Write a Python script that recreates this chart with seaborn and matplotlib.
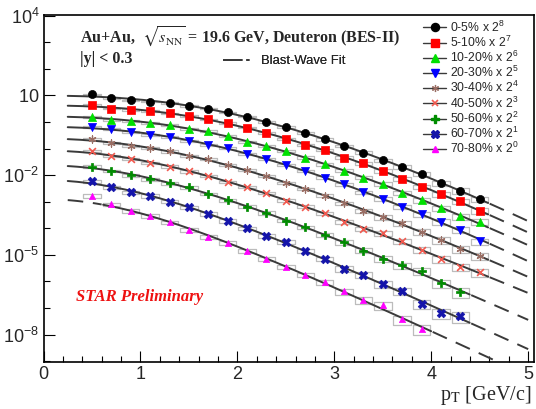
import numpy as np
import pandas as pd
import matplotlib
matplotlib.use("Agg")
import matplotlib.pyplot as plt
import matplotlib.ticker as mticker
from matplotlib.lines import Line2D
from matplotlib.patches import Rectangle
from matplotlib.collections import PatchCollection
import seaborn as sns

# ---------------- data ----------------
pt = [0.5, 0.7, 0.9, 1.1, 1.3, 1.5, 1.7, 1.9, 2.1, 2.3, 2.5,
      2.7, 2.9, 3.1, 3.3, 3.5, 3.7, 3.9, 4.1, 4.3, 4.5]

centralities = ["0-5%", "5-10%", "10-20%", "20-30%", "30-40%",
                "40-50%", "50-60%", "60-70%", "70-80%"]
scale_powers = [8, 7, 6, 5, 4, 3, 2, 1, 0]

c0_5 = [11, 8.1, 6.5, 5.9, 5.2, 4.0, 3.2, 2.3, 1.6, 1.0, 0.65,
        0.40, 0.22, 0.126, 0.071, 0.037, 0.020, 0.011, 4.9e-3, 2.6e-3, 1.26e-3]
c5_10 = [4.4, 3.2, 2.8, 2.6, 2.1, 1.66, 1.26, 0.93, 0.62, 0.40, 0.23,
         0.138, 0.087, 0.046, 0.028, 0.0145, 7.1e-3, 3.6e-3, 1.95e-3, 1.02e-3, 4.6e-4]
c10_20 = [1.58, 1.17, 1.10, 0.89, 0.75, 0.56, 0.46, 0.30, 0.178, 0.126, 0.081,
          0.046, 0.026, 0.0145, 8.1e-3, 4.6e-3, 2.2e-3, 1.15e-3, 5.6e-4, 2.8e-4, 1.78e-4]
c20_30 = [0.65, 0.53, 0.43, 0.32, 0.28, 0.195, 0.138, 0.102, 0.065, 0.042, 0.024,
          0.0145, 8.1e-3, 4.6e-3, 2.3e-3, 1.26e-3, 6.6e-4, 3.5e-4, 1.78e-4, 8.9e-5, 3.2e-5]
c30_40 = [0.224, 0.158, 0.126, 0.102, 0.078, 0.052, 0.040, 0.0245, 0.0158, 9.3e-3, 5.2e-3,
          3.0e-3, 1.66e-3, 8.9e-4, 4.6e-4, 2.6e-4, 1.55e-4, 7.4e-5, 3.6e-5, 1.7e-5, 9.3e-6]
c40_50 = [0.081, 0.052, 0.041, 0.028, 0.021, 0.0138, 9.3e-3, 5.6e-3, 3.7e-3, 2.1e-3, 1.1e-3,
          6.6e-4, 3.6e-4, 1.78e-4, 9.5e-5, 6.5e-5, 3.2e-5, 1.58e-5, 7.1e-6, 3.5e-6, 2.2e-6]
c50_60 = [0.021, 0.0145, 0.010, 7.1e-3, 4.9e-3, 3.5e-3, 1.95e-3, 1.15e-3, 6.6e-4, 3.8e-4,
          1.95e-4, 1.1e-4, 5.8e-5, 3.0e-5, 1.45e-5, 7.1e-6, 4.0e-6, 2.5e-6, 8.7e-7, 4.0e-7]
c60_70 = [5.8e-3, 3.5e-3, 2.3e-3, 1.66e-3, 1.0e-3, 6.2e-4, 3.5e-4, 1.9e-4, 1.0e-4, 5.2e-5,
          3.0e-5, 1.45e-5, 7.1e-6, 3.0e-6, 1.78e-6, 8.1e-7, 4.4e-7, 1.45e-7, 6.5e-8, 5.0e-8]
c70_80 = [1.66e-3, 7.9e-4, 4.4e-4, 3.0e-4, 1.66e-4, 8.9e-5, 4.9e-5, 2.75e-5, 1.45e-5,
          7.1e-6, 3.5e-6, 1.78e-6, 9.3e-7, 4.2e-7, 1.95e-7, 1.26e-7, 3.7e-8, 1.58e-8]

series = [c0_5, c5_10, c10_20, c20_30, c30_40, c40_50, c50_60, c60_70, c70_80]

# relative systematic uncertainty (box half-height): centrality factor x pT factor
sys_cent = [0.07, 0.07, 0.08, 0.08, 0.09, 0.10, 0.12, 0.14, 0.16]
sys_pt = [1.0, 1.0, 1.0, 1.0, 1.0, 1.0, 1.0, 1.0, 1.0, 1.1, 1.2,
          1.3, 1.4, 1.6, 1.8, 2.0, 2.3, 2.6, 2.9, 3.2, 3.5]

# blast-wave fit range (first point used) per centrality
fit_first = [0, 0, 0, 0, 0, 0, 0, 0, 1]
deuteron_mass = 1.8756

# ---------------- styles ----------------
colors = ["#000000", "#ff0000", "#00e000", "#0000ff", "#9a6e64",
          "#f2594f", "#008c00", "#1414aa", "#ff00ff"]
markers = ["o", "s", "^", "v", (6, 2, 0), "x", "P", "X", "^"]
msizes = [34, 30, 34, 34, 26, 24, 40, 38, 20]
line_col = "#3a3a3a"

sns.set_theme(style="white")
plt.rcParams["font.family"] = ["Liberation Sans", "DejaVu Sans"]
plt.rcParams["mathtext.fontset"] = "custom"
plt.rcParams["mathtext.rm"] = "Liberation Sans"
plt.rcParams["mathtext.it"] = "Liberation Sans:italic"
plt.rcParams["mathtext.bf"] = "Liberation Sans:bold"

W, H = 536, 409
fig = plt.figure(figsize=(W / 100, H / 100), dpi=100)
ax = fig.add_axes([43.5 / W, 1 - 361.6 / H, (534 - 43.5) / W, (361.6 - 15) / H])
ax.set_yscale("log")

# long-form data frame
rows = []
for i, vals in enumerate(series):
    for j, v in enumerate(vals):
        rows.append({"cent": centralities[i], "pt": pt[j], "val": v, "idx": i, "j": j})
df = pd.DataFrame(rows)

# systematic boxes
boxes = []
for _, r in df.iterrows():
    s = min(sys_cent[r.idx] * sys_pt[r.j], 0.85)
    boxes.append(Rectangle((r.pt - 0.09, r.val * (1 - s)), 0.18, r.val * 2 * s))
ax.add_collection(PatchCollection(boxes, facecolor="none", edgecolor="#bcbcbc",
                                  linewidth=0.9, zorder=2))

# blast-wave style fit curves (least squares in log space vs mT)
pt_grid = np.linspace(0.25, 5.0, 300)
for i, vals in enumerate(series):
    p = np.array(pt[:len(vals)])[fit_first[i]:]
    y = np.log10(np.array(vals))[fit_first[i]:]
    mt = np.sqrt(p ** 2 + deuteron_mass ** 2)
    A = np.vstack([np.ones_like(mt), mt, np.log(mt)]).T
    coef, *_ = np.linalg.lstsq(A, y, rcond=None)
    mtg = np.sqrt(pt_grid ** 2 + deuteron_mass ** 2)
    yg = 10 ** (coef[0] + coef[1] * mtg + coef[2] * np.log(mtg))
    lo = p.min() - 0.1 if fit_first[i] > 0 else 0.25
    hi = p.max() + 0.1
    solid = (pt_grid >= lo) & (pt_grid <= hi)
    ax.plot(pt_grid[solid], yg[solid], color=line_col, lw=1.4, zorder=2.5)
    before = pt_grid <= lo
    after = pt_grid >= hi
    for m in (before, after):
        if m.sum() > 1:
            ax.plot(pt_grid[m], yg[m], color=line_col, lw=1.4, dashes=(8, 5), zorder=2.5)

# points
for i, vals in enumerate(series):
    sub = df[df.idx == i]
    kw = dict(data=sub, x="pt", y="val", ax=ax, marker=markers[i], s=msizes[i],
              color=colors[i], zorder=3, legend=False)
    if markers[i] == "x":
        kw["linewidth"] = 1.2
    elif markers[i] == (6, 2, 0):
        kw["linewidth"] = 0.9
    else:
        kw["edgecolor"] = colors[i]
        kw["linewidth"] = 0.5
    sns.scatterplot(**kw)

ax.set_xlim(0, 5.06)
ax.set_ylim(10 ** -9.02, 10 ** 4.03)
ax.set_xlabel("")
ax.set_ylabel("")

# ticks
ax.set_xticks([0, 1, 2, 3, 4, 5])
ax.set_xticklabels(["0", "1", "2", "3", "4", "5"])
ax.xaxis.set_minor_locator(mticker.MultipleLocator(0.2))
ax.set_yticks([1e-8, 1e-5, 1e-2, 1e1, 1e4])
ax.set_yticklabels([r"$10^{-8}$", r"$10^{-5}$", r"$10^{-2}$", r"$10$", r"$10^{4}$"])
ax.yaxis.set_minor_locator(mticker.FixedLocator([10.0 ** k for k in range(-9, 5)]))
ax.yaxis.set_minor_formatter(mticker.NullFormatter())
ax.tick_params(which="major", direction="in", length=8, width=0.8, labelsize=13,
               color="black", pad=3, bottom=True, left=True)
ax.tick_params(which="minor", direction="in", length=4, width=0.8,
               color="black", bottom=True, left=True)
for sp in ax.spines.values():
    sp.set_linewidth(1.2)
    sp.set_color("black")

# x-axis title
fig.text(531 / W, 1 - 400 / H, r"p$_{\rm T}$ [GeV/c]", ha="right", va="baseline",
         fontsize=14.5, family=["Liberation Serif"], math_fontfamily="stix")

# header texts
fig.text(80 / W, 1 - 43 / H, r"Au+Au,  $\sqrt{s_{\rm NN}}$ = 19.6 GeV, Deuteron (BES-II)",
         ha="left", va="baseline", fontsize=11.5, fontweight="bold",
         family=["Liberation Serif"], math_fontfamily="stix")
fig.text(80 / W, 1 - 63 / H, "|y| < 0.3", ha="left", va="baseline", fontsize=11.5,
         fontweight="bold", family=["Liberation Serif"])
fig.text(76 / W, 1 - 301 / H, "STAR Preliminary", ha="left", va="baseline",
         fontsize=12, fontweight="bold", fontstyle="italic", color="#ee1111",
         family=["Liberation Serif"])

# blast-wave legend entry
bw = fig.legend(handles=[Line2D([], [], color=line_col, lw=1.4, dashes=(10, 2, 1.6, 2))],
                labels=["Blast-Wave Fit"], loc="center left",
                bbox_to_anchor=(223 / W, 1 - 61 / H), frameon=False,
                handlelength=2.3, handletextpad=0.6, borderpad=0, borderaxespad=0,
                prop={"family": "Liberation Sans", "size": 9.4})
fig.add_artist(bw)

# centrality legend
handles = []
labels = []
for i, c in enumerate(centralities):
    mk = markers[i]
    ms = np.sqrt(msizes[i])
    if mk in ("x", (6, 2, 0)):
        h = Line2D([], [], color=line_col, lw=1.0, marker=mk, markersize=ms,
                   markeredgecolor=colors[i],
                   markeredgewidth=1.2 if mk == "x" else 0.9)
    else:
        h = Line2D([], [], color=line_col, lw=1.0, marker=mk, markersize=ms,
                   markerfacecolor=colors[i], markeredgecolor=colors[i])
    handles.append(h)
    labels.append(c + r" x 2$^{%d}$" % scale_powers[i])
leg = fig.legend(handles=handles, labels=labels, loc="upper left",
                 bbox_to_anchor=(423 / W, 1 - 19.5 / H), frameon=False,
                 handlelength=1.9, handletextpad=0.35, labelspacing=0.0,
                 borderpad=0, borderaxespad=0,
                 prop={"family": "Liberation Sans", "size": 8.8})

fig.savefig("out.png", dpi=100)
